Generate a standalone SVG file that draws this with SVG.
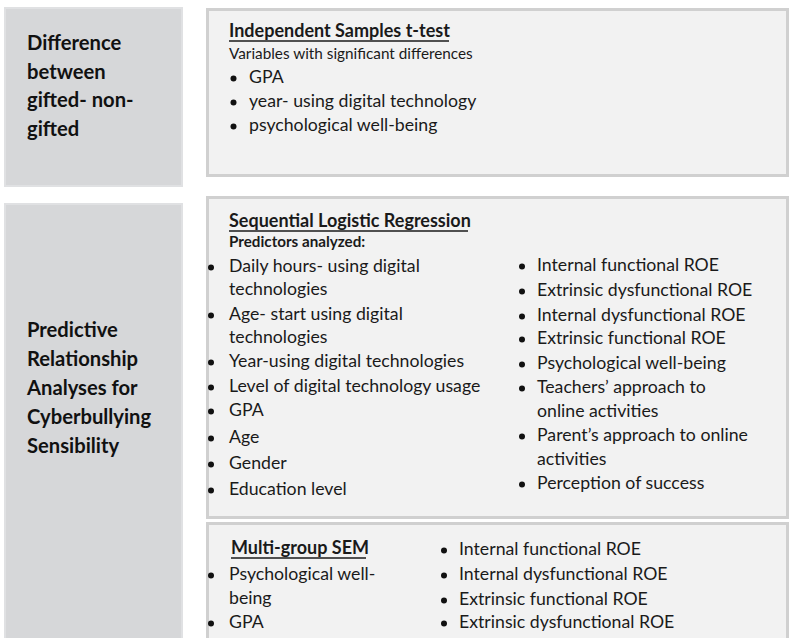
<svg xmlns="http://www.w3.org/2000/svg" width="789" height="638" viewBox="0 0 789 638">
<style>
.lbox{fill:#d6d7d9;stroke:#e0e1e3;stroke-width:2}
.rbox{fill:#f2f2f2;stroke:#d0d0d0;stroke-width:3}
text{font-family:Lato,"Liberation Sans",sans-serif;fill:#1a1a1a}
.lab{font-size:20.2px;font-weight:bold;fill:#111}
.hd{font-size:18px;font-weight:bold}
.sub{font-size:15.3px}
.subb{font-size:15.2px;font-weight:bold}
.it{font-size:17.7px}
.ul{stroke:#1a1a1a;stroke-width:1.3}
.b{fill:#111}
</style>
<rect width="789" height="638" fill="#ffffff"/>
<g id="label-difference">
<rect class="lbox" x="5" y="8" width="177" height="178"/>
<text class="lab" x="27" y="50">Difference</text>
<text class="lab" x="27" y="79">between</text>
<text class="lab" x="27" y="107">gifted- non-</text>
<text class="lab" x="27" y="136">gifted</text>
</g>
<g id="label-predictive">
<rect class="lbox" x="5" y="204" width="177" height="440"/>
<text class="lab" x="27" y="337">Predictive</text>
<text class="lab" x="27" y="366">Relationship</text>
<text class="lab" x="27" y="395">Analyses for</text>
<text class="lab" x="27" y="424">Cyberbullying</text>
<text class="lab" x="27" y="453">Sensibility</text>
</g>
<g id="ttest">
<rect class="rbox" x="207.5" y="9.5" width="580" height="166"/>
<text class="hd" x="229" y="37">Independent Samples t-test</text>
<line class="ul" x1="229" y1="41" x2="449" y2="41"/>
<text class="sub" x="229" y="59">Variables with significant differences</text>
<circle class="b" cx="233.5" cy="78.5" r="3"/>
<text class="it" x="249" y="83">GPA</text>
<circle class="b" cx="233.5" cy="102.5" r="3"/>
<text class="it" x="249" y="107">year- using digital technology</text>
<circle class="b" cx="233.5" cy="126.5" r="3"/>
<text class="it" x="249" y="131">psychological well-being</text>
</g>
<g id="regression">
<rect class="rbox" x="207.5" y="197.5" width="580" height="320"/>
<text class="hd" x="229" y="227">Sequential Logistic Regression</text>
<line class="ul" x1="229" y1="231" x2="468" y2="231"/>
<text class="subb" x="229" y="247">Predictors analyzed:</text>
<circle class="b" cx="211" cy="267.5" r="3"/>
<text class="it" x="229" y="272">Daily hours- using digital</text>
<text class="it" x="229" y="295">technologies</text>
<circle class="b" cx="211" cy="315.5" r="3"/>
<text class="it" x="229" y="320">Age- start using digital</text>
<text class="it" x="229" y="343">technologies</text>
<circle class="b" cx="211" cy="362.5" r="3"/>
<text class="it" x="229" y="367">Year-using digital technologies</text>
<circle class="b" cx="211" cy="387.5" r="3"/>
<text class="it" x="229" y="392">Level of digital technology usage</text>
<circle class="b" cx="211" cy="411.5" r="3"/>
<text class="it" x="229" y="416">GPA</text>
<circle class="b" cx="211" cy="438.5" r="3"/>
<text class="it" x="229" y="443">Age</text>
<circle class="b" cx="211" cy="464.5" r="3"/>
<text class="it" x="229" y="469">Gender</text>
<circle class="b" cx="211" cy="490.5" r="3"/>
<text class="it" x="229" y="495">Education level</text>
<circle class="b" cx="522" cy="266.5" r="3"/>
<text class="it" x="537" y="271">Internal functional ROE</text>
<circle class="b" cx="522" cy="291.5" r="3"/>
<text class="it" x="537" y="296">Extrinsic dysfunctional ROE</text>
<circle class="b" cx="522" cy="316.5" r="3"/>
<text class="it" x="537" y="321">Internal dysfunctional ROE</text>
<circle class="b" cx="522" cy="339.5" r="3"/>
<text class="it" x="537" y="344">Extrinsic functional ROE</text>
<circle class="b" cx="522" cy="364.5" r="3"/>
<text class="it" x="537" y="369">Psychological well-being</text>
<circle class="b" cx="522" cy="388.5" r="3"/>
<text class="it" x="537" y="393">Teachers’ approach to</text>
<text class="it" x="537" y="417">online activities</text>
<circle class="b" cx="522" cy="436.5" r="3"/>
<text class="it" x="537" y="441">Parent’s approach to online</text>
<text class="it" x="537" y="465">activities</text>
<circle class="b" cx="522" cy="484.5" r="3"/>
<text class="it" x="537" y="489">Perception of success</text>
</g>
<g id="sem">
<rect class="rbox" x="207.5" y="523.5" width="580" height="130"/>
<text class="hd" x="231" y="554">Multi-group SEM</text>
<line class="ul" x1="231" y1="558" x2="366" y2="558"/>
<circle class="b" cx="211" cy="575.5" r="3"/>
<text class="it" x="229" y="580">Psychological well-</text>
<text class="it" x="229" y="604">being</text>
<circle class="b" cx="211" cy="623.5" r="3"/>
<text class="it" x="229" y="628">GPA</text>
<circle class="b" cx="444" cy="550.5" r="3"/>
<text class="it" x="459" y="555">Internal functional ROE</text>
<circle class="b" cx="444" cy="575.5" r="3"/>
<text class="it" x="459" y="580">Internal dysfunctional ROE</text>
<circle class="b" cx="444" cy="600.5" r="3"/>
<text class="it" x="459" y="605">Extrinsic functional ROE</text>
<circle class="b" cx="444" cy="623.5" r="3"/>
<text class="it" x="459" y="628">Extrinsic dysfunctional ROE</text>
</g>
</svg>
